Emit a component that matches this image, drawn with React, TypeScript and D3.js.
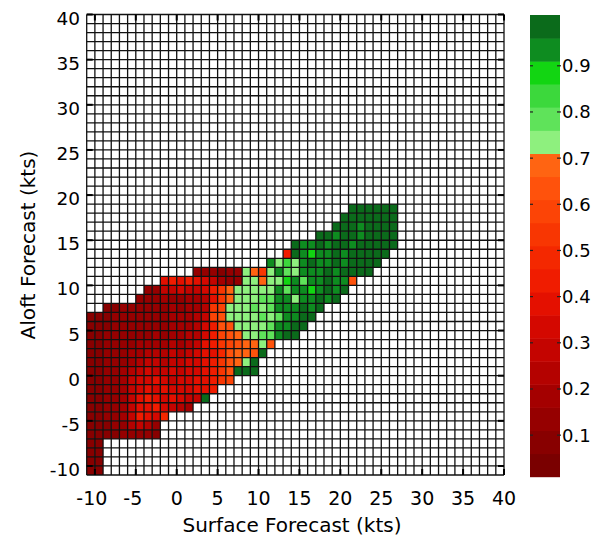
import React from "react";
import * as d3 from "d3";

// ---- data ----
const xTicks = [-10, -5, 0, 5, 10, 15, 20, 25, 30, 35, 40];
const yTicks = [-10, -5, 0, 5, 10, 15, 20, 25, 30, 35, 40];
const cbTicks = [0.1, 0.2, 0.3, 0.4, 0.5, 0.6, 0.7, 0.8, 0.9];

// band colours of the colour bar, lowest band first (20 bands of 0.05)
const bandColors = [
  "#7a0000", "#880000", "#960000", "#a40000", "#b40200",
  "#c40400", "#d40800", "#e41000", "#f01c00", "#f42800",
  "#f83602", "#fc4406", "#ff520c", "#ff6412", "#8ef07e",
  "#5fe35a", "#3cd83c", "#12d512", "#0e8c20", "#0b6b1b",
];

// rows of the grid: lower y edge of the row, first x cell, values
const rowY = [18, 17, 16, 15, 14, 13, 12, 11, 10, 9, 8, 7, 6, 5, 4, 3, 2, 1, 0, -1, -2, -3, -4, -5, -6, -7, -8, -9, -10, -11];
const rowStart = [21, 20, 19, 17, 14, 13, 11, 2, -2, -4, -5, -9, -11, -11, -11, -11, -11, -11, -11, -11, -11, -11, -11, -11, -11, -11, -11, -11, -11, -11];
const rowValues: number[][] = [
  [0.98, 0.98, 0.98, 0.98, 0.98, 0.98],
  [0.98, 0.98, 0.98, 0.98, 0.98, 0.98, 0.98],
  [0.98, 0.98, 0.98, 0.93, 0.98, 0.98, 0.98, 0.98],
  [0.98, 0.98, 0.93, 0.98, 0.98, 0.93, 0.98, 0.98, 0.98, 0.98],
  [0.98, 0.93, 0.93, 0.98, 0.93, 0.98, 0.98, 0.93, 0.98, 0.98, 0.98, 0.98, 0.98],
  [0.45, 0.98, 0.93, 0.88, 0.93, 0.93, 0.98, 0.93, 0.98, 0.98, 0.98, 0.98, 0.98],
  [0.93, 0.73, 0.83, 0.73, 0.93, 0.98, 0.93, 0.93, 0.98, 0.93, 0.98, 0.98, 0.98, 0.98],
  [0.13, 0.13, 0.13, 0.08, 0.13, 0.13, 0.73, 0.68, 0.55, 0.73, 0.93, 0.78, 0.73, 0.93, 0.93, 0.93, 0.98, 0.93, 0.98, 0.98, 0.98, 0.98],
  [0.4, 0.45, 0.4, 0.45, 0.4, 0.35, 0.3, 0.18, 0.13, 0.13, 0.73, 0.73, 0.68, 0.73, 0.73, 0.88, 0.93, 0.78, 0.93, 0.93, 0.98, 0.93, 0.93, 0.63],
  [0.13, 0.13, 0.3, 0.3, 0.35, 0.3, 0.3, 0.35, 0.45, 0.55, 0.68, 0.73, 0.73, 0.73, 0.73, 0.73, 0.93, 0.78, 0.93, 0.93, 0.88, 0.93, 0.98, 0.93, 0.98],
  [0.13, 0.13, 0.13, 0.18, 0.13, 0.13, 0.18, 0.18, 0.23, 0.4, 0.55, 0.68, 0.73, 0.73, 0.73, 0.78, 0.78, 0.93, 0.93, 0.73, 0.93, 0.93, 0.98, 0.93, 0.98],
  [0.08, 0.08, 0.13, 0.13, 0.13, 0.13, 0.13, 0.13, 0.18, 0.13, 0.18, 0.18, 0.23, 0.55, 0.6, 0.73, 0.73, 0.73, 0.78, 0.73, 0.78, 0.93, 0.93, 0.93, 0.98, 0.93, 0.98],
  [0.08, 0.08, 0.08, 0.13, 0.13, 0.13, 0.13, 0.13, 0.13, 0.13, 0.18, 0.18, 0.18, 0.23, 0.3, 0.6, 0.63, 0.73, 0.73, 0.73, 0.73, 0.78, 0.73, 0.78, 0.93, 0.93, 0.98, 0.98],
  [0.08, 0.08, 0.08, 0.13, 0.13, 0.13, 0.13, 0.13, 0.13, 0.13, 0.18, 0.18, 0.18, 0.23, 0.35, 0.45, 0.63, 0.63, 0.73, 0.73, 0.73, 0.73, 0.78, 0.93, 0.93, 0.98, 0.98],
  [0.08, 0.08, 0.13, 0.13, 0.13, 0.13, 0.13, 0.13, 0.18, 0.13, 0.18, 0.18, 0.23, 0.23, 0.35, 0.45, 0.6, 0.63, 0.68, 0.73, 0.73, 0.78, 0.78, 0.93, 0.98, 0.98],
  [0.08, 0.08, 0.13, 0.13, 0.13, 0.13, 0.18, 0.18, 0.18, 0.18, 0.23, 0.18, 0.23, 0.3, 0.4, 0.45, 0.55, 0.6, 0.63, 0.68, 0.68, 0.73, 0.63],
  [0.08, 0.08, 0.13, 0.13, 0.13, 0.18, 0.18, 0.23, 0.23, 0.23, 0.3, 0.23, 0.3, 0.35, 0.4, 0.4, 0.5, 0.63, 0.68, 0.68, 0.63, 0.98],
  [0.08, 0.08, 0.13, 0.13, 0.13, 0.18, 0.23, 0.3, 0.3, 0.23, 0.3, 0.3, 0.35, 0.35, 0.4, 0.45, 0.55, 0.63, 0.68, 0.73, 0.98],
  [0.08, 0.08, 0.13, 0.13, 0.18, 0.23, 0.3, 0.35, 0.3, 0.3, 0.35, 0.3, 0.35, 0.35, 0.4, 0.45, 0.55, 0.63, 0.98, 0.98, 0.98],
  [0.08, 0.08, 0.13, 0.13, 0.18, 0.3, 0.35, 0.35, 0.4, 0.35, 0.3, 0.35, 0.35, 0.4, 0.4, 0.45, 0.55, 0.6],
  [0.08, 0.08, 0.13, 0.13, 0.18, 0.3, 0.35, 0.4, 0.35, 0.4, 0.35, 0.35, 0.35, 0.4, 0.4, 0.45],
  [0.08, 0.08, 0.13, 0.13, 0.18, 0.3, 0.4, 0.45, 0.4, 0.35, 0.4, 0.35, 0.3, 0.3, 0.98],
  [0.08, 0.08, 0.13, 0.13, 0.18, 0.3, 0.4, 0.4, 0.45, 0.35, 0.3, 0.23, 0.18],
  [0.08, 0.08, 0.13, 0.13, 0.18, 0.3, 0.45, 0.4, 0.35, 0.5],
  [0.08, 0.08, 0.08, 0.13, 0.13, 0.23, 0.3, 0.23, 0.13],
  [0.08, 0.08, 0.08, 0.08, 0.13, 0.13, 0.13, 0.13, 0.08],
  [0.08, 0.08],
  [0.08, 0.08],
  [0.08, 0.08],
  [0.08, 0.08],
];

const FONT = "'DejaVu Sans', sans-serif";

export default function App() {
  const x = d3.scaleLinear().domain([-11, 40]).range([86.7, 504]);
  const y = d3.scaleLinear().domain([-11, 40]).range([475, 14.5]);
  const cb = d3.scaleLinear().domain([0.01, 1.01]).range([476.7, 15]);
  const band = (v: number) =>
    bandColors[Math.max(0, Math.min(19, Math.floor((v - 0.01) / 0.05)))];

  const cells: { x0: number; y0: number; v: number }[] = [];
  rowY.forEach((y0, r) => {
    rowValues[r].forEach((v, i) => cells.push({ x0: rowStart[r] + i, y0, v }));
  });

  const gridVals = d3.range(-11, 41);
  const bands = d3.range(20);

  return (
    <svg
      width={595}
      height={536}
      style={{ position: "absolute", left: 0, top: 0, background: "#fff" }}
    >
      <rect x={0} y={0} width={595} height={536} fill="#fff" />
      {cells.map((c, i) => (
        <rect
          key={i}
          x={x(c.x0)}
          y={y(c.y0 + 1)}
          width={x(c.x0 + 1) - x(c.x0)}
          height={y(c.y0) - y(c.y0 + 1)}
          fill={band(c.v)}
        />
      ))}
      {gridVals.map((g) => (
        <line key={"v" + g} x1={x(g)} x2={x(g)} y1={y(-11)} y2={y(40)} stroke="#111" strokeWidth={1.3} />
      ))}
      {gridVals.map((g) => (
        <line key={"h" + g} y1={y(g)} y2={y(g)} x1={x(-11)} x2={x(40)} stroke="#111" strokeWidth={1.3} />
      ))}
      {xTicks.map((t) => (
        <g key={"xt" + t}>
          <line x1={x(t)} x2={x(t)} y1={y(-11)} y2={y(-11) - 6} stroke="#000" strokeWidth={2} />
          <line x1={x(t)} x2={x(t)} y1={y(40)} y2={y(40) + 6} stroke="#000" strokeWidth={2} />
          <text x={x(t) - (t < 0 ? 3 : 0)} y={505} textAnchor="middle" fontFamily={FONT} fontSize={19} fill="#000">
            {t}
          </text>
        </g>
      ))}
      {yTicks.map((t) => (
        <g key={"yt" + t}>
          <line x1={x(-11)} x2={x(-11) + 6} y1={y(t)} y2={y(t)} stroke="#000" strokeWidth={2} />
          <line x1={x(40)} x2={x(40) - 6} y1={y(t)} y2={y(t)} stroke="#000" strokeWidth={2} />
          <text x={80} y={y(t) + 10} textAnchor="end" fontFamily={FONT} fontSize={18.5} fill="#000">
            {t}
          </text>
        </g>
      ))}
      <text x={292} y={532} textAnchor="middle" fontFamily={FONT} fontSize={20} fill="#000">
        Surface Forecast (kts)
      </text>
      <text
        transform={`translate(35,245) rotate(-90)`}
        textAnchor="middle"
        fontFamily={FONT}
        fontSize={20}
        fill="#000"
      >
        Aloft Forecast (kts)
      </text>
      {bands.map((b) => (
        <rect
          key={"b" + b}
          x={530}
          y={cb(0.01 + 0.05 * (b + 1))}
          width={30}
          height={cb(0.01 + 0.05 * b) - cb(0.01 + 0.05 * (b + 1)) + 0.5}
          fill={bandColors[b]}
        />
      ))}
      {cbTicks.map((t) => (
        <g key={"cb" + t}>
          <line x1={530} x2={533} y1={cb(t)} y2={cb(t)} stroke="#222" strokeWidth={1.2} />
          <line x1={557} x2={561} y1={cb(t)} y2={cb(t)} stroke="#222" strokeWidth={1.2} />
          <text x={562} y={cb(t) + 6.5} fontFamily={FONT} fontSize={18} fill="#000">
            {t.toFixed(1)}
          </text>
        </g>
      ))}
    </svg>
  );
}
